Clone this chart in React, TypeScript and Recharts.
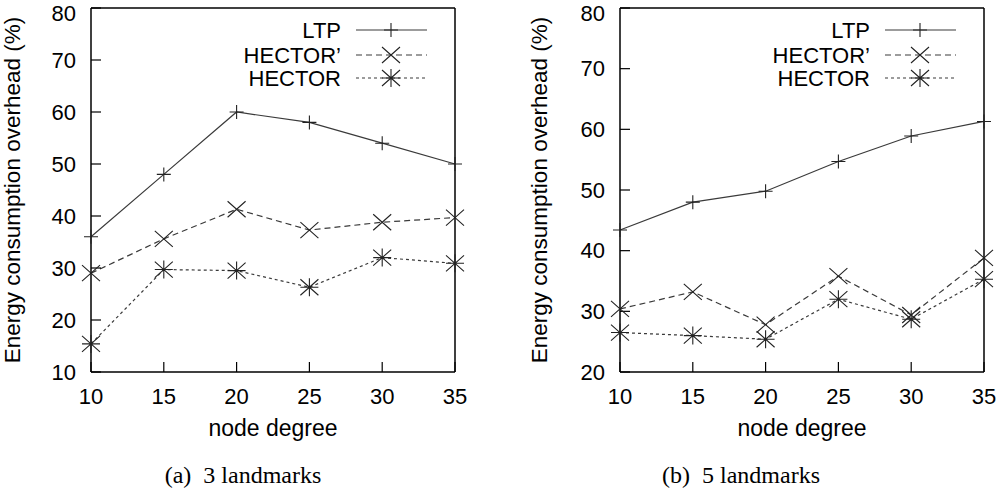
import React from 'react';
import { LineChart, Line, XAxis, YAxis, Legend } from 'recharts';

const degrees = [10, 15, 20, 25, 30, 35];
const ltp3 = [36, 48, 60, 58, 54, 50];
const hectorPrime3 = [29, 35.6, 41.3, 37.3, 38.8, 39.7];
const hector3 = [15.4, 29.7, 29.5, 26.3, 32, 30.9];
const ltp5 = [43.4, 48, 49.8, 54.7, 58.9, 61.3];
const hectorPrime5 = [30.4, 33.2, 27.8, 35.8, 29.4, 38.8];
const hector5 = [26.5, 26, 25.4, 32, 28.7, 35.3];
const yTicks3 = [10, 20, 30, 40, 50, 60, 70, 80];
const yTicks5 = [20, 30, 40, 50, 60, 70, 80];
const seriesNames = ['LTP', "HECTOR\u2019", 'HECTOR'];

const SANS = '"Liberation Sans", Arial, Helvetica, sans-serif';
const SERIF = '"Liberation Serif", "Times New Roman", serif';
const LINE = '#3a3a3a';
const MARK = '#222';

const buildRows = (a: number[], b: number[], c: number[]) =>
  degrees.map((d, i) => ({ deg: d, ltp: a[i], hp: b[i], h: c[i] }));

const plusPath = (cx: number, cy: number) => `M${cx - 7},${cy}h14M${cx},${cy - 7}v14`;
const crossPath = (cx: number, cy: number) =>
  `M${cx - 9},${cy - 8}L${cx + 9},${cy + 8}M${cx - 9},${cy + 8}L${cx + 9},${cy - 8}`;
const starPath = (cx: number, cy: number) => crossPath(cx, cy) + `M${cx - 9},${cy}h18M${cx},${cy - 9}v18`;

const markers = [plusPath, crossPath, starPath];
const dashes = [undefined, '6 4', '3 3'];

const makeDot = (kind: number) => (props: any) => {
  const { cx, cy, index } = props;
  if (cx == null || cy == null) return <g key={`d${kind}-${index}`} />;
  return (
    <path key={`d${kind}-${index}`} d={markers[kind](cx, cy)} stroke={MARK} strokeWidth={1.1} fill="none" />
  );
};

const makeLegend = (textEnd: number) => () => {
  const rows = [30, 55, 78];
  return (
    <svg width={500} height={100} style={{ overflow: 'visible', display: 'block' }}>
      {seriesNames.map((n, i) => (
        <g key={n}>
          <text x={textEnd} y={rows[i]} textAnchor="end" dominantBaseline="central" fontFamily={SANS} fontSize={22} fill="#000">
            {n}
          </text>
          <line x1={textEnd + 15} x2={textEnd + 86} y1={rows[i]} y2={rows[i]} stroke={LINE} strokeWidth={1.2} strokeDasharray={dashes[i]} />
          <path d={markers[i](textEnd + 50, rows[i])} stroke={MARK} strokeWidth={1.1} fill="none" />
        </g>
      ))}
    </svg>
  );
};

type PanelProps = {
  rows: any[];
  yTicks: number[];
  marginLeft: number;
  marginRight: number;
  yLabelX: number;
  legendTextEnd: number;
};

const Panel = ({ rows, yTicks, marginLeft, marginRight, yLabelX, legendTextEnd }: PanelProps) => {
  const domain = [yTicks[0], yTicks[yTicks.length - 1]];
  const tickStyle = { fontSize: 22, fill: '#000', fontFamily: SANS };
  return (
    <LineChart width={500} height={492} data={rows} margin={{ top: 7, right: marginRight, bottom: 56, left: marginLeft }}>
      <XAxis
        dataKey="deg"
        type="number"
        domain={[10, 35]}
        ticks={degrees}
        tickSize={-10}
        tickMargin={26}
        tick={tickStyle}
        axisLine={{ stroke: '#000', strokeWidth: 1.5 }}
        tickLine={{ stroke: '#000', strokeWidth: 1.2 }}
        height={64}
        label={{ value: 'node degree', position: 'insideBottom', offset: 0, fontSize: 23, fill: '#000', fontFamily: SANS }}
      />
      <XAxis
        xAxisId="top"
        orientation="top"
        type="number"
        domain={[10, 35]}
        ticks={degrees}
        tickSize={-10}
        tickFormatter={() => ''}
        axisLine={{ stroke: '#000', strokeWidth: 1.5 }}
        tickLine={{ stroke: '#000', strokeWidth: 1.2 }}
        height={1}
      />
      <YAxis
        type="number"
        domain={domain}
        ticks={yTicks}
        tickSize={-10}
        tickMargin={25}
        tick={tickStyle}
        axisLine={{ stroke: '#000', strokeWidth: 1.5 }}
        tickLine={{ stroke: '#000', strokeWidth: 1.2 }}
        width={60}
        label={{
          content: () => (
            <text
              x={yLabelX}
              y={190}
              transform={`rotate(-90, ${yLabelX}, 190)`}
              textAnchor="middle"
              fontFamily={SANS}
              fontSize={22.5}
              fill="#000"
            >
              Energy consumption overhead (%)
            </text>
          ),
        }}
      />
      <YAxis
        yAxisId="right"
        orientation="right"
        type="number"
        domain={domain}
        ticks={yTicks}
        tickSize={-10}
        tickFormatter={() => ''}
        axisLine={{ stroke: '#000', strokeWidth: 1.5 }}
        tickLine={{ stroke: '#000', strokeWidth: 1.2 }}
        width={1}
      />
      <Legend
        layout="vertical"
        align="center"
        verticalAlign="middle"
        content={makeLegend(legendTextEnd)}
        wrapperStyle={{ position: 'absolute', top: 0, left: 0, width: 500, height: 100 }}
      />
      <Line dataKey="ltp" name={seriesNames[0]} stroke={LINE} strokeWidth={1.2} dot={makeDot(0)} isAnimationActive={false} />
      <Line dataKey="hp" name={seriesNames[1]} stroke={LINE} strokeWidth={1.2} strokeDasharray={dashes[1]} dot={makeDot(1)} isAnimationActive={false} />
      <Line dataKey="h" name={seriesNames[2]} stroke={LINE} strokeWidth={1.2} strokeDasharray={dashes[2]} dot={makeDot(2)} isAnimationActive={false} />
    </LineChart>
  );
};

const captionStyle: React.CSSProperties = {
  position: 'absolute',
  top: 462,
  fontFamily: SERIF,
  fontSize: 24,
  color: '#000',
  whiteSpace: 'pre',
  textAlign: 'center',
  width: 300,
};

export default function App() {
  return (
    <div style={{ position: 'absolute', left: 0, top: 0, width: 1000, height: 492, background: '#fff', overflow: 'hidden' }}>
      <div style={{ position: 'absolute', left: 0, top: 0 }}>
        <Panel rows={buildRows(ltp3, hectorPrime3, hector3)} yTicks={yTicks3} marginLeft={31} marginRight={44} yLabelX={20} legendTextEnd={341} />
      </div>
      <div style={{ position: 'absolute', left: 500, top: 0 }}>
        <Panel rows={buildRows(ltp5, hectorPrime5, hector5)} yTicks={yTicks5} marginLeft={60} marginRight={15} yLabelX={47} legendTextEnd={370} />
      </div>
      <div style={{ ...captionStyle, left: 243 - 150 }}>(a)  3 landmarks</div>
      <div style={{ ...captionStyle, left: 741 - 150 }}>(b)  5 landmarks</div>
    </div>
  );
}
